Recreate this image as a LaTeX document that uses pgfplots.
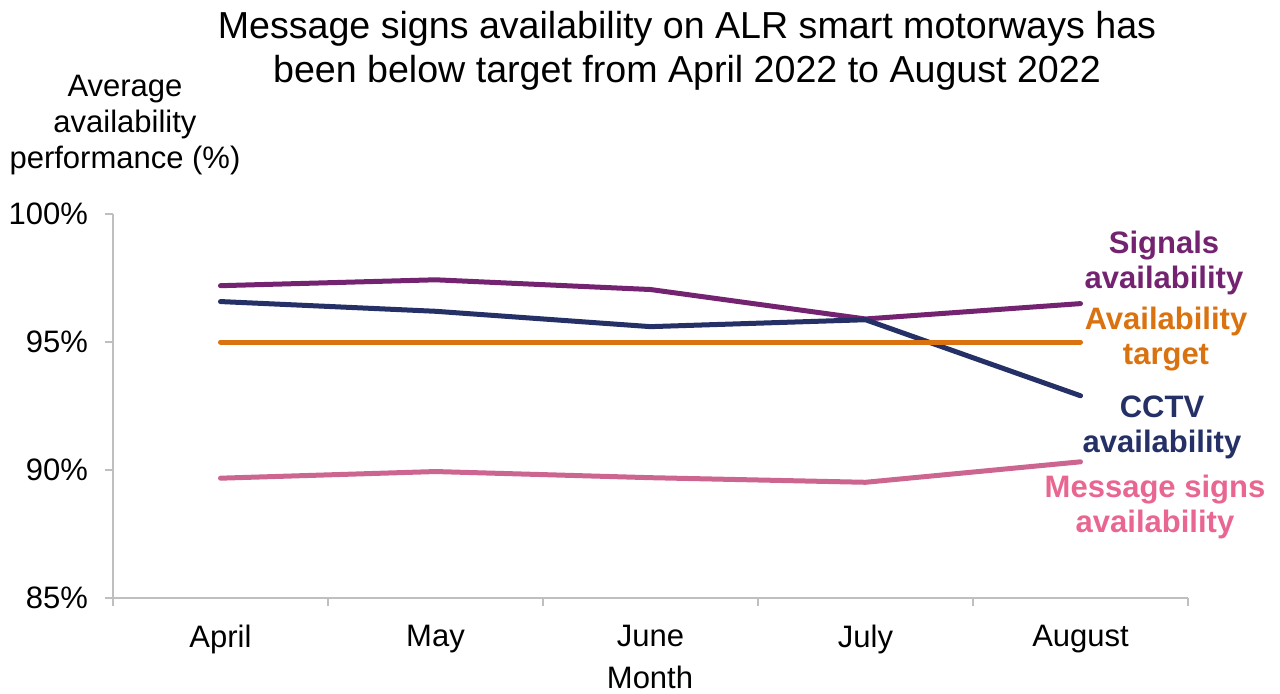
\documentclass[border=0pt]{standalone}
\usepackage{pgfplots}
\pgfplotsset{compat=1.18}
\usepackage{fontspec}
\setmainfont{Liberation Sans}
\definecolor{sig}{HTML}{742371}
\definecolor{cctv}{HTML}{243066}
\definecolor{targ}{HTML}{D9720F}
\definecolor{msg}{HTML}{CC6690}
\definecolor{msglab}{HTML}{E8668F}
\definecolor{axgray}{HTML}{BFBFBF}
\begin{document}
\begin{tikzpicture}[x=1pt,y=1pt]
\path[use as bounding box] (0,0) rectangle (640,346.5);
\begin{axis}[
  at={(56.5pt,47.5pt)}, anchor=south west,
  scale only axis, width=537.5pt, height=192pt,
  xmin=-0.5, xmax=4.5, ymin=85, ymax=100,
  axis x line=bottom, axis y line=left,
  axis line style={-, draw=axgray, line width=0.8pt},
  xtick={0,...,4}, xticklabels={April,May,June,July,August},
  major x tick style={draw=none},
  minor xtick={-0.5,0.5,...,4.5},
  minor tick length=4pt, major tick length=4pt,
  tick style={draw=axgray, line width=0.8pt},
  tick align=outside,
  ytick={85,90,95,100},
  /pgf/number format/assume math mode=true,
  yticklabel={\pgfmathprintnumber{\tick}\%},
  ticklabel style={font=\fontsize{15.5}{18}\selectfont},
  yticklabel style={xshift=-5pt},
  xticklabel style={yshift=-6pt},
  clip=false,
]
\addplot[sig, line width=2.5pt, line cap=round, line join=round] coordinates {(0,97.2) (1,97.43) (2,97.05) (3,95.9) (4,96.5)};
\addplot[cctv, line width=2.5pt, line cap=round, line join=round] coordinates {(0,96.58) (1,96.2) (2,95.6) (3,95.87) (4,92.9)};
\addplot[targ, line width=2.5pt, line cap=round, line join=round] coordinates {(0,95) (1,95) (2,95) (3,95) (4,95)};
\addplot[msg, line width=2.5pt, line cap=round, line join=round] coordinates {(0,89.68) (1,89.94) (2,89.7) (3,89.52) (4,90.32)};
\end{axis}
\node[align=center, font=\fontsize{18.8}{22}\selectfont] at (343.5,321) {Message signs availability on ALR smart motorways has\\been below target from April 2022 to August 2022};
\node[align=center, font=\fontsize{15.5}{18}\selectfont] at (62.5,284) {Average\\availability\\performance (\%)};
\node[font=\fontsize{15.5}{18}\selectfont] at (325,8) {Month};
\node[align=center, text=sig, font=\bfseries\fontsize{15.5}{17.5}\selectfont] at (582,215) {Signals\\availability};
\node[align=center, text=targ, font=\bfseries\fontsize{15.5}{17.5}\selectfont] at (583,176.75) {Availability\\target};
\node[align=center, text=cctv, font=\bfseries\fontsize{15.5}{17.5}\selectfont] at (581,133) {CCTV\\availability};
\node[align=center, text=msglab, font=\bfseries\fontsize{15.5}{17.5}\selectfont] at (577.5,93) {Message signs\\availability};
\end{tikzpicture}
\end{document}
